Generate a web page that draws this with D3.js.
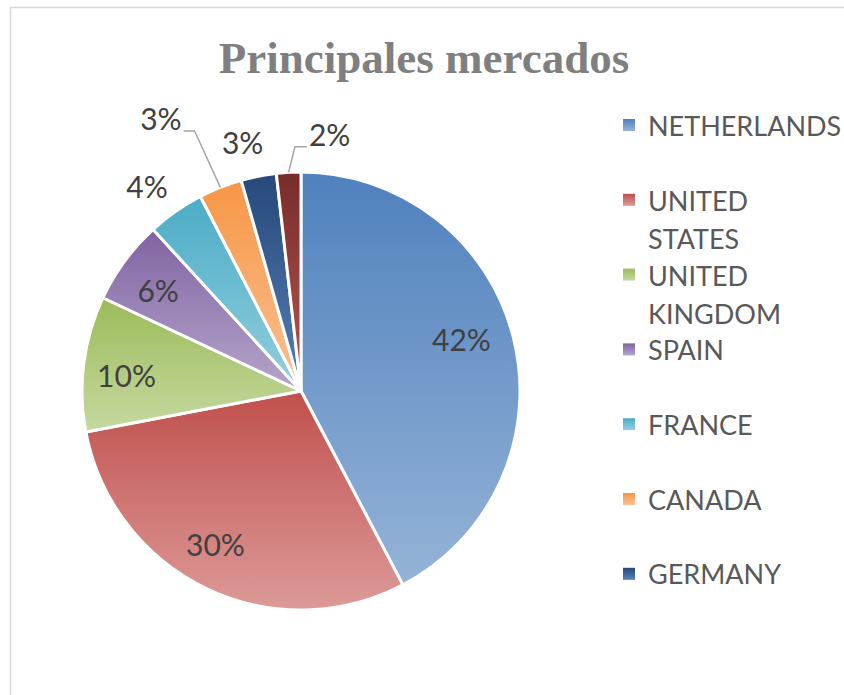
<!DOCTYPE html>
<html>
<head>
<meta charset="utf-8">
<script src="https://cdn.jsdelivr.net/npm/d3@7"></script>
<style>
  body { margin: 0; background: #fff; }
  svg { display: block; }
</style>
</head>
<body>
<svg width="844" height="695"></svg>
<script>
let width = 844;
let height = 695;

// datos
const mercados = ["NETHERLANDS", "UNITED STATES", "UNITED KINGDOM", "SPAIN", "FRANCE", "CANADA", "GERMANY", "OTHERS"];
const valores = [42.3, 29.7, 10, 6.2, 4.2, 3.2, 2.6, 1.8];
const coloresArriba = ["#4f81bd", "#c0504d", "#9bbb59", "#8064a2", "#4bacc6", "#f79646", "#27487a", "#772c2a"];
const coloresAbajo = ["#95b3d7", "#dc9a98", "#c6d9a0", "#b5a5cb", "#93cfdf", "#fac193", "#5580b8", "#b85653"];
const legendaVisible = 7; // la leyenda solo alcanza a mostrar 7

let svg = d3.select("svg");

// borde del area del grafico
svg.append("rect")
  .attr("x", 10.5).attr("y", 7.5)
  .attr("width", 900).attr("height", 800)
  .attr("fill", "none")
  .attr("stroke", "#d9d9d9")
  .attr("stroke-width", 1.5);

// titulo
svg.append("text")
  .attr("x", 424)
  .attr("y", 73)
  .attr("text-anchor", "middle")
  .attr("font-family", "'Liberation Serif', serif")
  .attr("font-weight", "bold")
  .attr("font-size", 45)
  .attr("fill", "#7f7f7f")
  .text("Principales mercados");

// gradientes
let defs = svg.append("defs");
mercados.forEach(function (m, i) {
  let g = defs.append("linearGradient")
    .attr("id", "grad" + i)
    .attr("x1", 0).attr("y1", 0).attr("x2", 0).attr("y2", 1);
  g.append("stop").attr("offset", "0%").attr("stop-color", coloresArriba[i]);
  g.append("stop").attr("offset", "100%").attr("stop-color", coloresAbajo[i]);
});

let cx = 301, cy = 391, radio = 219;

let pie = d3.pie().sort(null).value(d => d);
let arcos = pie(valores);
let total = d3.sum(valores);

let arc = d3.arc().innerRadius(0).outerRadius(radio);

let gPie = svg.append("g").attr("transform", `translate(${cx},${cy})`);

gPie.selectAll("path")
  .data(arcos)
  .enter()
  .append("path")
  .attr("d", arc)
  .attr("fill", (d, i) => `url(#grad${i})`)
  .attr("stroke", "white")
  .attr("stroke-width", 3)
  .attr("stroke-linejoin", "round");

// posicion de etiquetas: factor de radio y desplazamiento de angulo (grados)
const etiquetaRadio = [0.77, 0.8, 0.8, 0.8, 1.17, 1.4, 1.17, 1.18];
const etiquetaGiro = [-4, 3.5, -2, -1, -2, -5.6, -2, 9.6];
const conGuia = [false, false, false, false, false, true, false, true];

function punto(ang, r) {
  return [r * Math.sin(ang), -r * Math.cos(ang)];
}

arcos.forEach(function (d, i) {
  let medio = (d.startAngle + d.endAngle) / 2;
  let ang = medio + etiquetaGiro[i] * Math.PI / 180;
  let p = punto(ang, radio * etiquetaRadio[i]);
  let txt = gPie.append("text")
    .attr("x", p[0])
    .attr("y", p[1])
    .attr("text-anchor", "middle")
    .attr("dominant-baseline", "central")
    .attr("font-family", "Lato, sans-serif")
    .attr("font-size", 30)
    .attr("fill", "#404040")
    .text(Math.round(d.value / total * 100) + "%");

  if (conGuia[i]) {
    let bb = txt.node().getBBox();
    let borde = punto(medio, radio);
    let izquierda = p[0] > borde[0];
    let xTexto = izquierda ? bb.x - 2 : bb.x + bb.width + 2;
    let yTexto = bb.y + bb.height * 0.85;
    let codo = [xTexto + (izquierda ? -12 : 11), yTexto];
    gPie.append("polyline")
      .attr("points", [[xTexto, yTexto], codo, borde].map(q => q.join(",")).join(" "))
      .attr("fill", "none")
      .attr("stroke", "#a6a6a6")
      .attr("stroke-width", 1.5);
  }
});

// leyenda
let legX = 623, legY = 125, paso = 74.8, interlinea = 38, anchoMax = 196;
let gLeg = svg.append("g");

mercados.slice(0, legendaVisible).forEach(function (m, i) {
  let y = legY + i * paso;
  gLeg.append("rect")
    .attr("x", legX).attr("y", y - 6)
    .attr("width", 12).attr("height", 12)
    .attr("fill", `url(#grad${i})`);

  let t = gLeg.append("text")
    .attr("x", legX + 25)
    .attr("y", y)
    .attr("dominant-baseline", "central")
    .attr("font-family", "Lato, sans-serif")
    .attr("font-size", 27)
    .attr("fill", "#595959")
    .text(m);

  // partir en lineas si no cabe
  let palabras = m.split(" ");
  if (palabras.length > 1 && t.node().getComputedTextLength() > anchoMax) {
    t.text(null);
    palabras.forEach(function (p, k) {
      t.append("tspan")
        .attr("x", legX + 25)
        .attr("y", y + k * interlinea)
        .text(p);
    });
  }
});
</script>
</body>
</html>
